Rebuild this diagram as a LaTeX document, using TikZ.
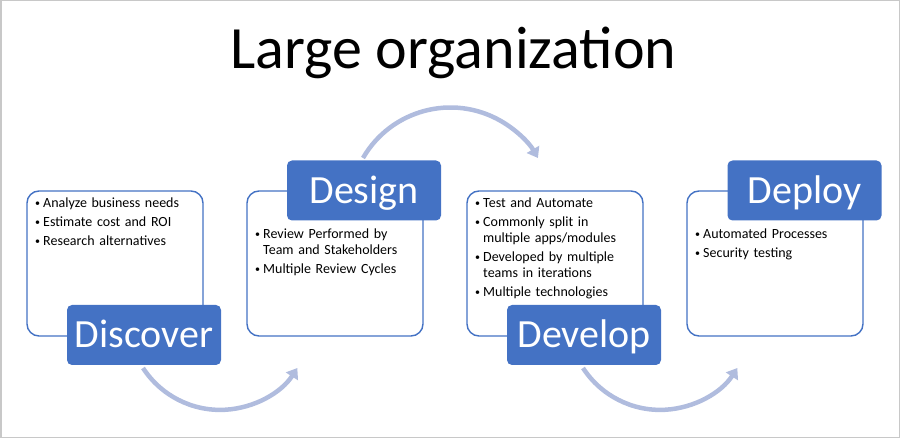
\documentclass[tikz,border=0pt]{standalone}
\usepackage{fontspec}
\setmainfont{Carlito}
\usetikzlibrary{arrows.meta, positioning, calc}
\definecolor{orgblue}{RGB}{68, 114, 196}
\definecolor{orgarrow}{RGB}{176, 188, 222}
\definecolor{orgframe}{RGB}{200, 200, 200}

\newcommand{\bitem}[1]{\hangindent=8pt\hangafter=1%
  \makebox[8pt][l]{\raisebox{1pt}{\fontsize{10}{10}\selectfont\textbullet}}#1\par}

\begin{document}
\begin{tikzpicture}[x=1pt, y=-1pt,
  box/.style={draw=orgblue, line width=1.4pt, rounded corners=12pt, fill=white,
    minimum width=176pt, minimum height=145pt, inner sep=0pt},
  phase/.style={fill=orgblue, rounded corners=5pt, minimum width=154pt, minimum height=60pt,
    inner sep=0pt, text=white, text height=26pt, text depth=0pt, font=\fontsize{40}{40}\selectfont},
  items/.style={anchor=base west, inner sep=0pt, text width=170pt, align=left,
    font=\fontsize{14}{16}\selectfont},
  flow/.style={orgarrow, line width=4.5pt, -{Triangle[width=14pt, length=10pt]}}]

\useasboundingbox (0,0) rectangle (900,438);
\draw[orgframe, line width=1.5pt] (0.75,0.75) rectangle (899.25,437.25);

% --- Titulo ---
\node[font=\fontsize{60}{60}\selectfont, anchor=base] (title) at (453.5, 69) {Large organization};

% --- Flechas entre fases ---
\coordinate (a1) at (143, 368);
\coordinate (a2) at (363, 158);
\coordinate (a3) at (583, 368);
\draw[flow] (a1) arc[start angle=147, end angle=33, radius=92];
\draw[flow] (a2) arc[start angle=210, end angle=330, radius=101];
\draw[flow] (a3) arc[start angle=147, end angle=33, radius=92];

% --- Cajas de contenido ---
\node[box] (b1) at (115, 263.5) {};
\node[box] (b2) at (335, 263.5) {};
\node[box] (b3) at (555, 263.5) {};
\node[box] (b4) at (775, 263.5) {};

% Listas
\node[items] (l1) at (35, 207.5) {\setlength{\parskip}{3pt}%
  \bitem{Analyze business needs}
  \bitem{Estimate cost and ROI}
  \bitem{Research alternatives}};
\node[items] (l2) at (255, 238.5) {\setlength{\parskip}{3pt}%
  \bitem{Review Performed by\newline Team and Stakeholders}
  \bitem{Multiple Review Cycles}};
\node[items] (l3) at (475, 207.5) {\setlength{\parskip}{3pt}%
  \bitem{Test and Automate}
  \bitem{Commonly split in\newline multiple apps/modules}
  \bitem{Developed by multiple\newline teams in iterations}
  \bitem{Multiple technologies}};
\node[items] (l4) at (695, 238.5) {\setlength{\parskip}{3pt}%
  \bitem{Automated Processes}
  \bitem{Security testing}};

% --- Etiquetas de fase ---
\node[phase] (discover) at (144, 335) {Discover};
\node[phase] (design) at (364, 190.5) {Design};
\node[phase] (develop) at (584, 335) {Develop};
\node[phase] (deploy) at (804.5, 190.5) {Deploy};

\end{tikzpicture}
\end{document}
